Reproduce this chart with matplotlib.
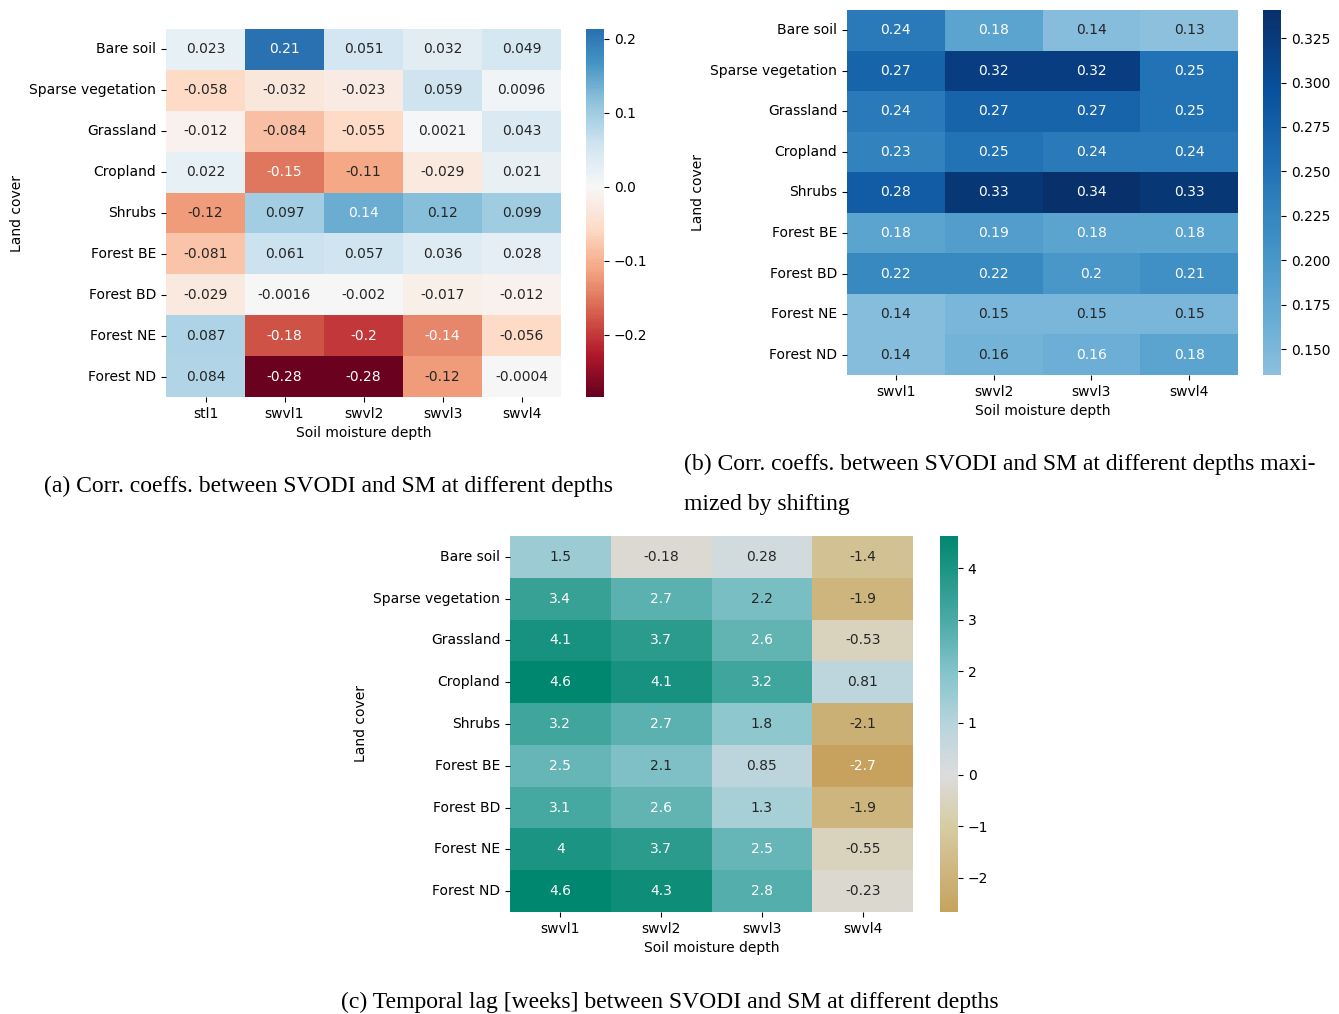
import numpy as np
import matplotlib
matplotlib.use('Agg')
import matplotlib.pyplot as plt
import seaborn as sns
from matplotlib.colors import LinearSegmentedColormap, ListedColormap

# land cover classes and soil layers
land_cover = ['Bare soil', 'Sparse vegetation', 'Grassland', 'Cropland', 'Shrubs',
              'Forest BE', 'Forest BD', 'Forest NE', 'Forest ND']
depths_a = ['stl1', 'swvl1', 'swvl2', 'swvl3', 'swvl4']
depths = ['swvl1', 'swvl2', 'swvl3', 'swvl4']

# (a) correlation coefficients
corr = [
    [0.023, 0.21, 0.051, 0.032, 0.049],
    [-0.058, -0.032, -0.023, 0.059, 0.0096],
    [-0.012, -0.084, -0.055, 0.0021, 0.043],
    [0.022, -0.15, -0.11, -0.029, 0.021],
    [-0.12, 0.097, 0.14, 0.12, 0.099],
    [-0.081, 0.061, 0.057, 0.036, 0.028],
    [-0.029, -0.0016, -0.002, -0.017, -0.012],
    [0.087, -0.18, -0.2, -0.14, -0.056],
    [0.084, -0.28, -0.28, -0.12, -0.0004],
]

# (b) correlation coefficients maximized by shifting
corr_shift = [
    [0.24, 0.18, 0.14, 0.13],
    [0.27, 0.32, 0.32, 0.25],
    [0.24, 0.27, 0.27, 0.25],
    [0.23, 0.25, 0.24, 0.24],
    [0.28, 0.33, 0.34, 0.33],
    [0.18, 0.19, 0.18, 0.18],
    [0.22, 0.22, 0.2, 0.21],
    [0.14, 0.15, 0.15, 0.15],
    [0.14, 0.157, 0.163, 0.18],
]

# (c) temporal lag in weeks
lag = [
    [1.5, -0.18, 0.28, -1.4],
    [3.4, 2.7, 2.2, -1.9],
    [4.1, 3.7, 2.6, -0.53],
    [4.6, 4.1, 3.2, 0.81],
    [3.2, 2.7, 1.8, -2.1],
    [2.5, 2.1, 0.85, -2.7],
    [3.1, 2.6, 1.3, -1.9],
    [4, 3.7, 2.5, -0.55],
    [4.6, 4.3, 2.8, -0.23],
]

W, H = 1339, 1014
fig = plt.figure(figsize=(W / 100, H / 100), dpi=100)


def px_axes(x0, y0, x1, y1):
    return fig.add_axes([x0 / W, 1 - y1 / H, (x1 - x0) / W, (y1 - y0) / H])


# colormaps
blues = plt.get_cmap('Blues')
blues_cut = ListedColormap(blues(np.linspace(0.42, 1.0, 256)))

lag_vmin, lag_vmax = -2.66, 4.62
nodes = [(-2.66, '#c6a25e'), (-1.0, '#d6cca4'), (0.0, '#dcdcdc'), (1.0, '#b6d4dc'),
         (2.0, '#84c3ca'), (3.0, '#4aaaa4'), (4.62, '#00876f')]
lag_cmap = LinearSegmentedColormap.from_list(
    'lag', [((v - lag_vmin) / (lag_vmax - lag_vmin), c) for v, c in nodes])

fs = 10

def style(ax, cax):
    ax.set_xlabel('Soil moisture depth', fontsize=fs)
    ax.set_ylabel('Land cover', fontsize=fs)
    ax.tick_params(labelsize=fs)
    plt.setp(ax.get_yticklabels(), rotation=0)
    plt.setp(ax.get_xticklabels(), rotation=0)
    cax.tick_params(labelsize=fs)


# (a)
ax1 = px_axes(166, 29, 561, 397)
cax1 = px_axes(586, 29, 604, 397)
sns.heatmap(np.array(corr), ax=ax1, cbar_ax=cax1, cmap='RdBu', center=0,
            vmin=-0.284, vmax=0.2135, annot=True, fmt='.2g',
            annot_kws={'fontsize': fs},
            xticklabels=depths_a, yticklabels=land_cover)
style(ax1, cax1)

# (b)
ax2 = px_axes(847, 10, 1238, 375)
cax2 = px_axes(1263, 10, 1281, 375)
sns.heatmap(np.array(corr_shift), ax=ax2, cbar_ax=cax2, cmap=blues_cut,
            vmin=0.1354, vmax=0.3408, annot=True, fmt='.2g',
            annot_kws={'fontsize': fs},
            xticklabels=depths, yticklabels=land_cover)
style(ax2, cax2)

# (c)
ax3 = px_axes(510, 536, 913, 912)
cax3 = px_axes(940, 536, 958, 912)
sns.heatmap(np.array(lag), ax=ax3, cbar_ax=cax3, cmap=lag_cmap,
            vmin=lag_vmin, vmax=lag_vmax, annot=True, fmt='.2g',
            annot_kws={'fontsize': fs},
            xticklabels=depths, yticklabels=land_cover)
style(ax3, cax3)

# captions
cap = dict(family='Liberation Serif', fontsize=17)
fig.text(328 / W, 1 - 486 / H, '(a) Corr. coeffs. between SVODI and SM at different depths',
         ha='center', va='center', **cap)
fig.text(684 / W, 1 - 484.5 / H,
         '(b) Corr. coeffs. between SVODI and SM at different depths maxi-\nmized by shifting',
         ha='left', va='center', linespacing=2.15, **cap)
fig.text(670 / W, 1 - 1002 / H, '(c) Temporal lag [weeks] between SVODI and SM at different depths',
         ha='center', va='center', **cap)

fig.savefig('out.png', dpi=100)
